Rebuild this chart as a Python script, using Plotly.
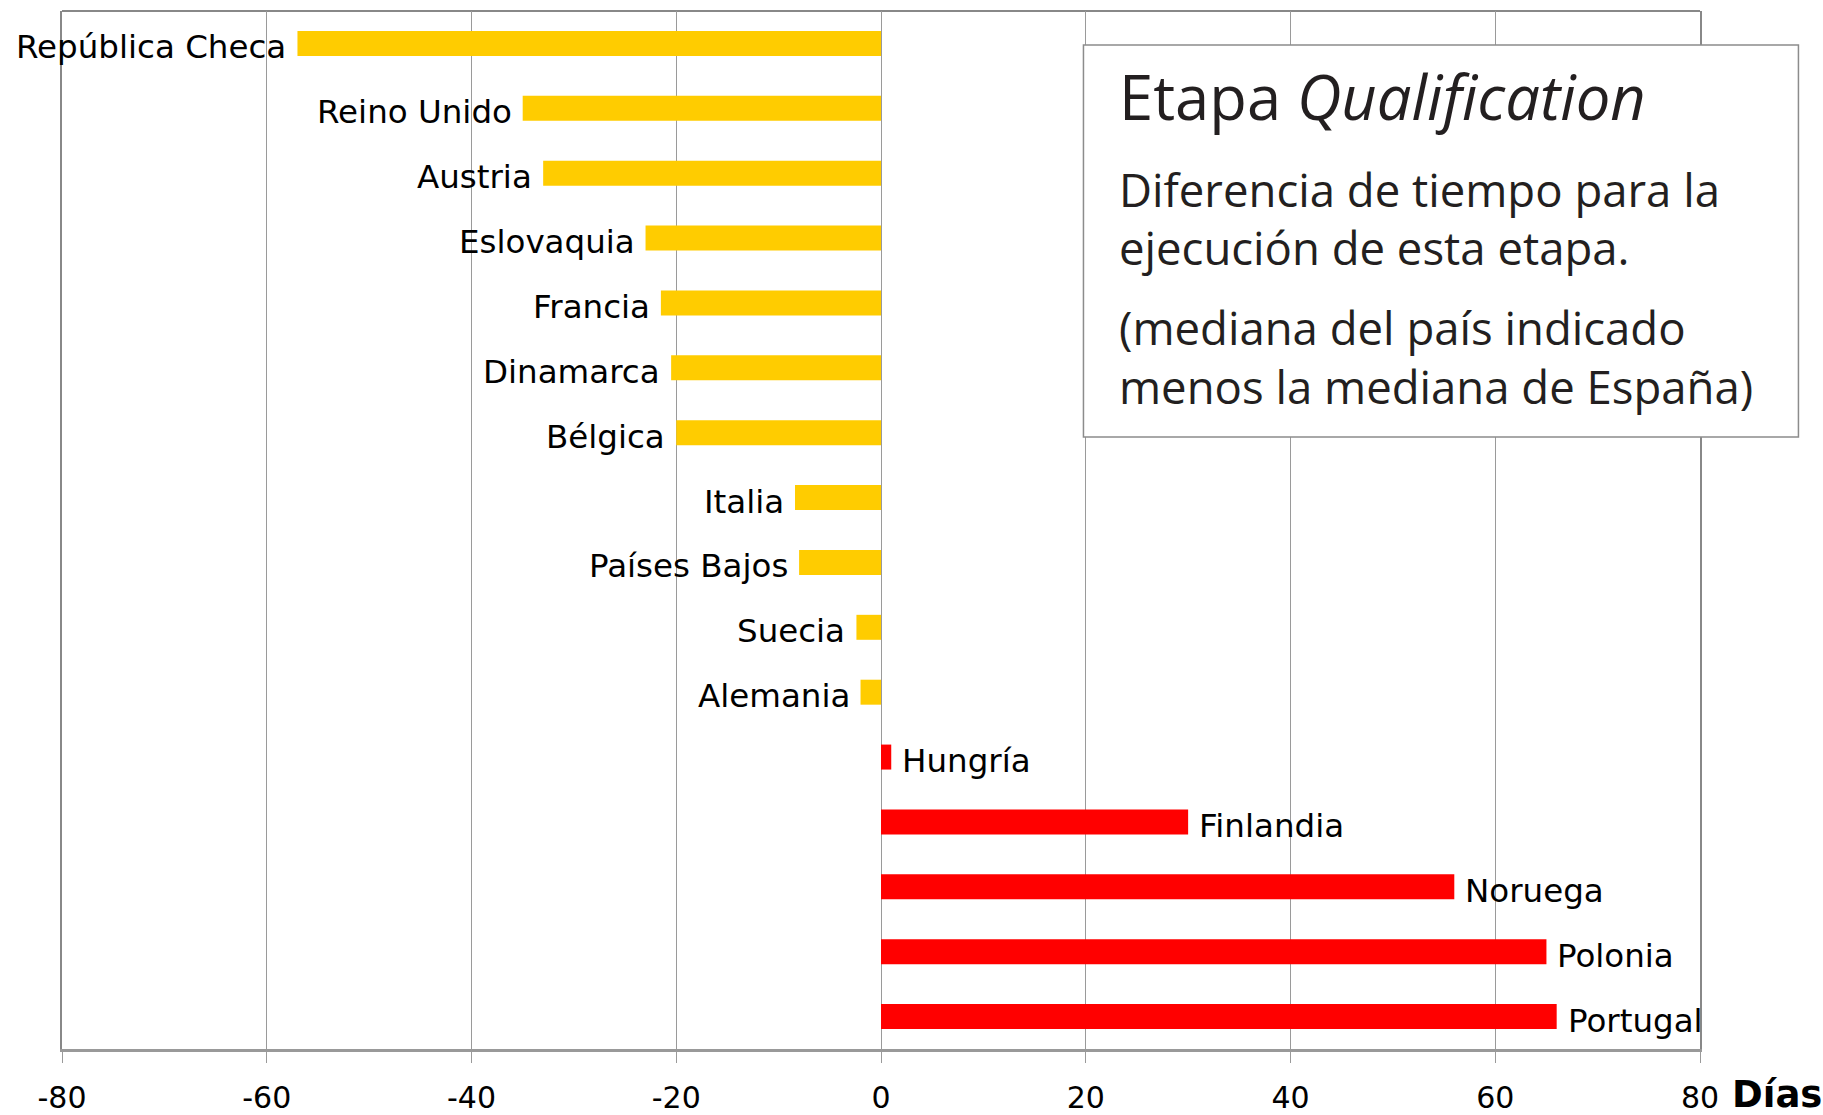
import plotly.graph_objects as go

# Difference in days for the Qualification stage (country median minus Spain's median)
countries = [
    "República Checa", "Reino Unido", "Austria", "Eslovaquia", "Francia",
    "Dinamarca", "Bélgica", "Italia", "Países Bajos", "Suecia", "Alemania",
    "Hungría", "Finlandia", "Noruega", "Polonia", "Portugal",
]
dias = [-57, -35, -33, -23, -21.5, -20.5, -20, -8.4, -8, -2.4, -2,
        1, 30, 56, 65, 66]

x_ticks = [-80, -60, -40, -20, 0, 20, 40, 60, 80]

FASTER = "#FFCC00"
SLOWER = "#FF0000"
GRID = "#9a9a9a"
TEXT_BOX = "#231F20"

bar_colors = [FASTER if v < 0 else SLOWER for v in dias]

fig = go.Figure(
    go.Bar(
        x=dias,
        y=countries,
        orientation="h",
        marker=dict(color=bar_colors, line=dict(width=0)),
        hoverinfo="x+y",
    )
)

# Country names next to the end of each bar
annotations = []
for name, v in zip(countries, dias):
    annotations.append(dict(
        x=v, y=name, xref="x", yref="y",
        text=name, showarrow=False,
        xanchor="right" if v < 0 else "left",
        xshift=-9 if v < 0 else 9,
        yshift=-4,
        yanchor="middle",
        font=dict(family="DejaVu Sans", size=32.5, color="#000000"),
    ))

# Axis unit label
annotations.append(dict(
    x=1.0183, y=-0.0443, xref="paper", yref="paper",
    text="<b>Días</b>", showarrow=False,
    xanchor="left", yanchor="middle",
    font=dict(family="DejaVu Sans", size=37, color="#000000"),
))

# Explanatory text box
box_font = "Open Sans"
box_x = 0.6441


def py(p):
    # pixel row -> paper fraction of the plot area (top 11, bottom 1049)
    return (1049 - p) / 1038


annotations.append(dict(
    x=box_x, y=py(95.8), xref="paper", yref="paper",
    text="Etapa <i>Qualification</i>", showarrow=False,
    xanchor="left", yanchor="middle",
    font=dict(family=box_font, size=61.5, color=TEXT_BOX),
))
box_lines = [
    ("Diferencia de tiempo para la", 189.2),
    ("ejecución de esta etapa.", 246.5),
    ("(mediana del país indicado", 327.5),
    ("menos la mediana de España)", 386.0),
]
for line, ypos in box_lines:
    annotations.append(dict(
        x=box_x, y=py(ypos), xref="paper", yref="paper",
        text=line, showarrow=False,
        xanchor="left", yanchor="middle",
        font=dict(family=box_font, size=45.5, color=TEXT_BOX),
    ))

shapes = [
    # text box frame
    dict(type="rect", xref="paper", yref="paper",
         x0=0.6236, x1=1.0601, y0=0.5896, y1=0.9672,
         fillcolor="#FFFFFF", line=dict(color="#8c8c8c", width=1.5),
         layer="above"),
    # top border of the plot area
    dict(type="line", xref="paper", yref="paper",
         x0=0, x1=1, y0=1, y1=1,
         line=dict(color="#888888", width=2), layer="below"),
]

fig.update_layout(
    width=1823,
    height=1115,
    margin=dict(l=62, r=123, t=11, b=66, autoexpand=False),
    paper_bgcolor="#FFFFFF",
    plot_bgcolor="#FFFFFF",
    showlegend=False,
    bargap=0.615,
    annotations=annotations,
    shapes=shapes,
    xaxis=dict(
        range=[-80, 80],
        tickvals=x_ticks,
        ticktext=[str(t) for t in x_ticks],
        showgrid=True, gridcolor=GRID, gridwidth=1,
        zeroline=False,
        showline=True, linecolor="#999999", linewidth=3,
        ticks="outside", ticklen=11, tickcolor=GRID, tickwidth=1,
        tickfont=dict(family="DejaVu Sans", size=30, color="#000000"),
        ticklabelstandoff=9,
        automargin=False,
        fixedrange=True,
    ),
    yaxis=dict(
        categoryorder="array",
        categoryarray=countries,
        autorange="reversed",
        showticklabels=False,
        showgrid=False,
        zeroline=False,
        showline=True, linecolor="#888888", linewidth=2, mirror=True,
        ticks="",
        automargin=False,
        fixedrange=True,
    ),
)

for a in fig.layout.annotations:
    a.update(captureevents=False)

fig.update_traces(cliponaxis=False)

fig.write_html("out.html", config={"displayModeBar": False})
